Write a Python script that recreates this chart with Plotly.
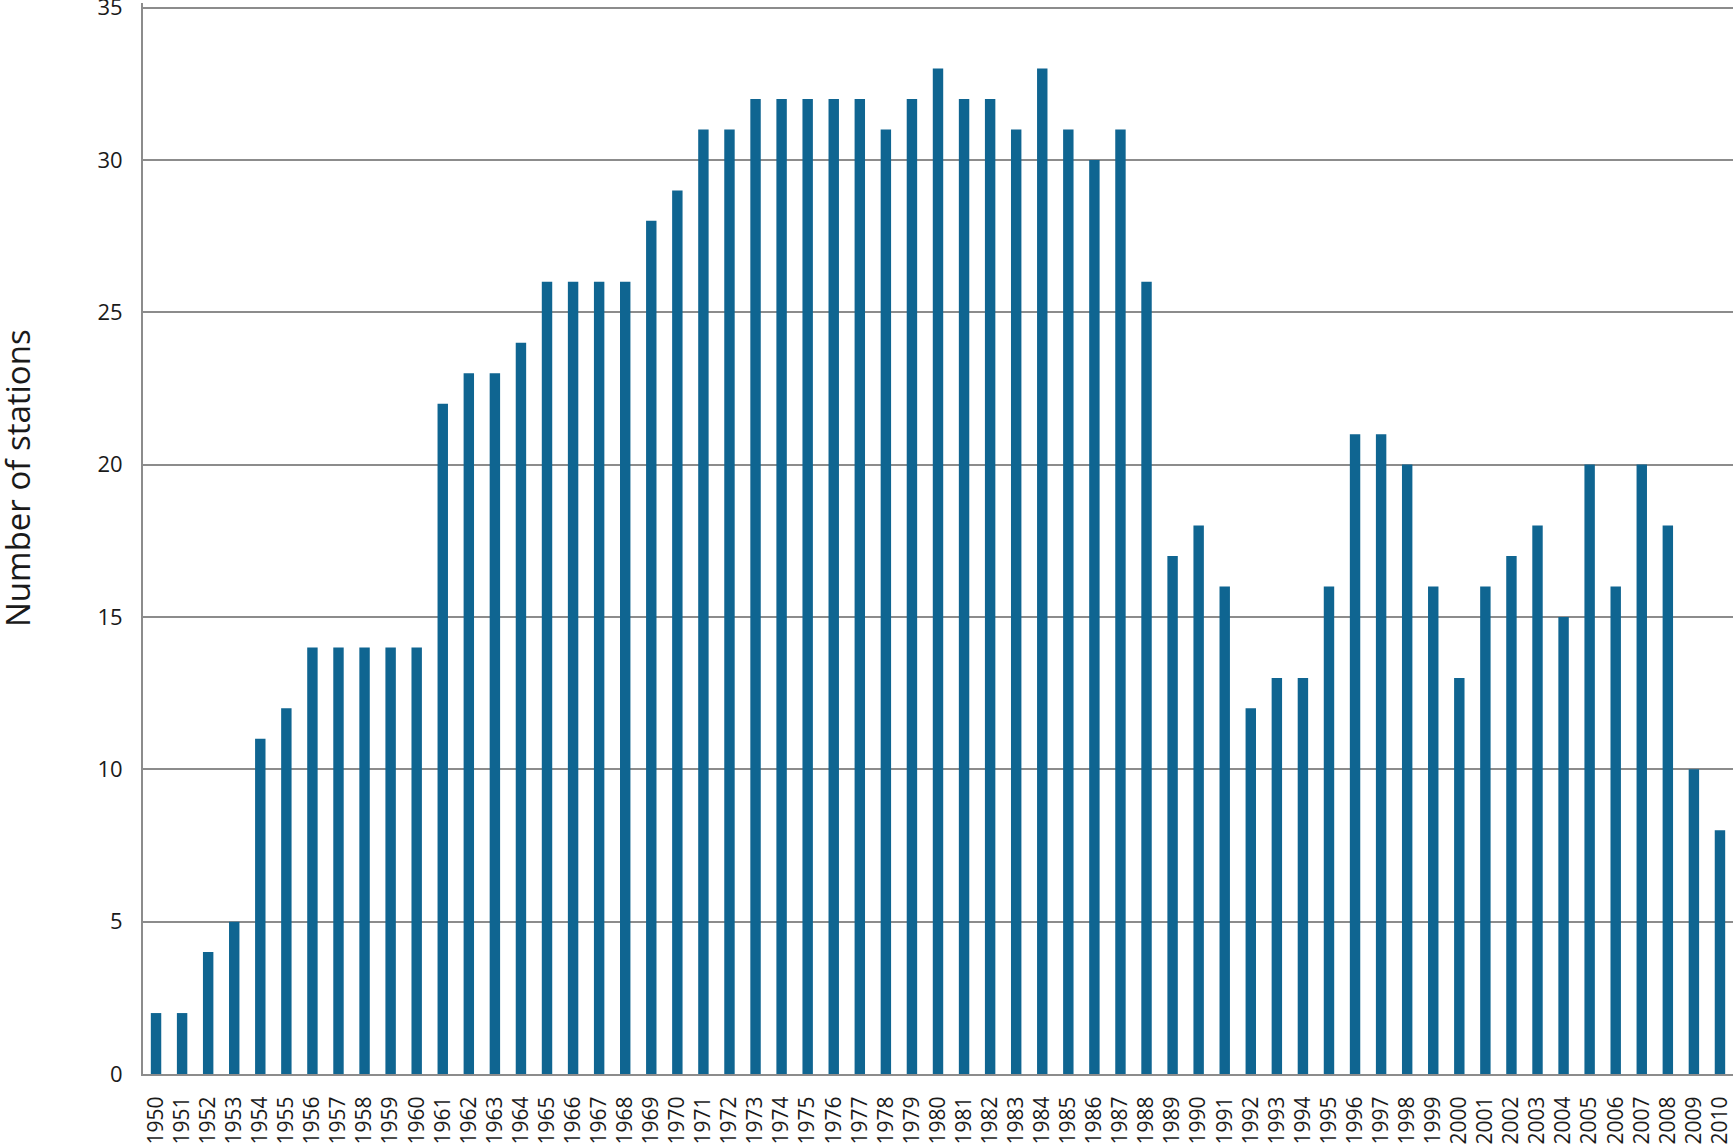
import plotly.graph_objects as go

years = [str(y) for y in range(1950, 2011)]
stations = [2, 2, 4, 5, 11, 12, 14, 14, 14, 14, 14, 22, 23, 23, 24, 26, 26, 26, 26, 28,
            29, 31, 31, 32, 32, 32, 32, 32, 31, 32, 33, 32, 32, 31, 33, 31, 30, 31, 26,
            17, 18, 16, 12, 13, 13, 16, 21, 21, 20, 16, 13, 16, 17, 18, 15, 20, 16, 20,
            18, 10, 8]
y_title = "Number of stations"

W, H = 1733, 1146
ml, mr, mt, mb = 143, 0, 3, 72
pw, ph = W - ml - mr, H - mt - mb

grid = "#8c8c8c"
font = "Open Sans"

fig = go.Figure(go.Bar(
    x=years, y=stations,
    marker=dict(color="#0f6591", line=dict(width=0)),
))

fig.update_layout(
    width=W, height=H, autosize=False,
    margin=dict(l=ml, r=mr, t=mt, b=mb, pad=0, autoexpand=False),
    paper_bgcolor="white", plot_bgcolor="white",
    bargap=0.6, showlegend=False,
    font=dict(family=font, color="#1a1a1a", size=20),
)
fig.update_xaxes(
    type="category", tickangle=-90, automargin=False,
    ticks="outside", ticklen=12, tickcolor="rgba(0,0,0,0)",
    showline=True, linecolor=grid, linewidth=2,
    showgrid=False, tickfont=dict(size=21, family=font),
)
fig.update_yaxes(
    range=[0, 35.15], tickvals=[0, 5, 10, 15, 20, 25, 30, 35],
    automargin=False,
    ticks="outside", ticklen=14, tickcolor="rgba(0,0,0,0)",
    ticklabeloverflow="allow",
    showline=True, linecolor=grid, linewidth=2,
    showgrid=True, gridcolor=grid, gridwidth=2,
    zeroline=False, tickfont=dict(size=22, family=font),
)
fig.add_annotation(
    text=y_title, textangle=-90, showarrow=False,
    xref="paper", yref="paper",
    x=(17 - ml) / pw, y=(H - mb - 478) / ph,
    xanchor="center", yanchor="middle",
    font=dict(size=33, family=font, color="#1a1a1a"),
)

fig.write_html(
    "out.html",
    config={"displayModeBar": False},
    post_script="document.body.style.margin='0';document.body.style.overflow='hidden';",
)
